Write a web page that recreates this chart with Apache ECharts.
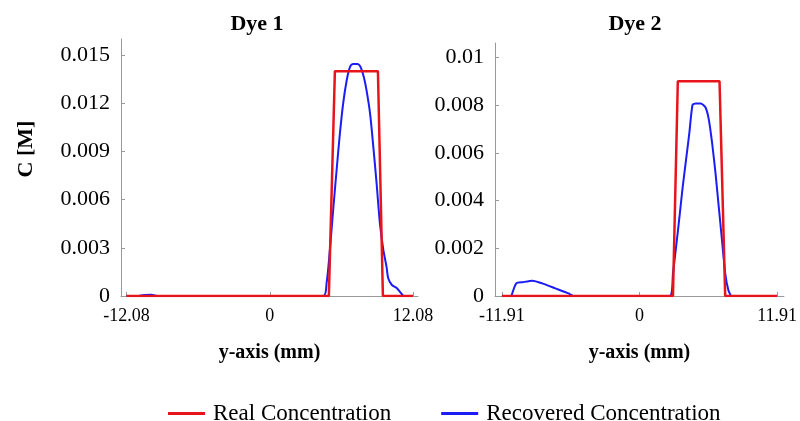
<!DOCTYPE html>
<html>
<head>
<meta charset="utf-8">
<script src="https://cdn.jsdelivr.net/npm/echarts@6/dist/echarts.min.js"></script>
<style>
  html, body { margin: 0; padding: 0; background: #fff; }
  #chart { width: 800px; height: 421px; }
</style>
</head>
<body>
<div id="chart"></div>
<script>
// Dye 1 (x in mm, C in M)
const dye1Real = [
  [-12.08, 0], [4.98, 0], [5.49, 0.014], [9.12, 0.014], [9.54, 0], [12.08, 0],
];
const dye1Recovered = [
  [-12.08, 0], [-11.2, 0], [-10.6, 0.00007], [-10.0, 0.00008], [-9.4, 0], [4.5, 0],
  [4.79, 0.0008], [5.07, 0.0029], [5.35, 0.0054], [5.63, 0.0078], [5.91, 0.0101],
  [6.19, 0.012], [6.48, 0.0134], [6.76, 0.01425], [7.04, 0.01444], [7.38, 0.01444],
  [7.66, 0.01425], [7.94, 0.0136], [8.16, 0.0128], [8.45, 0.0114], [8.73, 0.0093],
  [9.01, 0.007], [9.29, 0.0045], [9.57, 0.0029], [9.85, 0.0018], [9.99, 0.0011],
  [10.28, 0.0007], [10.7, 0.0005], [10.98, 0.00025], [11.26, 0],
];
// Dye 2
const dye2Real = [
  [-11.91, 0], [2.9, 0], [3.32, 0.009], [6.93, 0.009], [7.42, 0], [11.91, 0],
];
const dye2Recovered = [
  [-11.08, 0], [-10.66, 0.00053], [-10.1, 0.00058], [-9.25, 0.00064], [-8.41, 0.00053],
  [-7.27, 0.00032], [-6.14, 0.00011], [-5.72, 0], [2.61, 0],
  [2.9, 0.00095], [3.18, 0.0021], [3.46, 0.0033], [3.75, 0.0046], [4.03, 0.0057],
  [4.31, 0.0068], [4.59, 0.008], [4.87, 0.00807], [5.3, 0.00807], [5.72, 0.0079],
  [6.0, 0.0074], [6.29, 0.0064], [6.57, 0.0052], [6.85, 0.0038], [7.13, 0.0024],
  [7.42, 0.00095], [7.69, 0.00025], [7.92, 0],
];

const xTicks1 = [-12.08, 0, 12.08];
const xTicks2 = [-11.91, 0, 11.91];
const yTicks1 = [0, 0.003, 0.006, 0.009, 0.012, 0.015];
const yTicks2 = [0, 0.002, 0.004, 0.006, 0.008, 0.01];

const SERIF = "'Liberation Serif', 'DejaVu Serif', serif";
const RED = "#e8141c";
const BLUE = "#1c1cf5";

function xAxisFor(gridIndex, min, max, ticks) {
  return {
    type: "value",
    gridIndex,
    min,
    max,
    name: "y-axis (mm)",
    nameLocation: "middle",
    nameGap: 47,
    nameTextStyle: { fontFamily: SERIF, fontWeight: "bold", fontSize: 20, color: "#000" },
    axisLine: { show: true, onZero: false, lineStyle: { color: "#999", width: 1 } },
    axisTick: { show: true, inside: true, length: 4, customValues: ticks, lineStyle: { color: "#999" } },
    axisLabel: {
      customValues: ticks,
      fontFamily: SERIF,
      fontSize: 18,
      color: "#000",
      margin: 11,
      formatter: (v) => (v === 0 ? "0" : v.toFixed(2)),
    },
    splitLine: { show: false },
  };
}

function yAxisFor(gridIndex, max, ticks) {
  return {
    type: "value",
    gridIndex,
    min: 0,
    max,
    axisLine: { show: true, onZero: false, lineStyle: { color: "#999", width: 1 } },
    axisTick: { show: true, inside: true, length: 4, customValues: ticks, lineStyle: { color: "#999" } },
    axisLabel: {
      customValues: ticks,
      fontFamily: SERIF,
      fontSize: 22,
      color: "#000",
      margin: 11,
      formatter: (v) => String(v),
    },
    splitLine: { show: false },
  };
}

const chart = echarts.init(document.getElementById("chart"), undefined, { renderer: "canvas" });
chart.setOption({
  animation: false,
  title: [
    { text: "Dye 1", left: 252, top: 8, textAlign: "center",
      textStyle: { fontFamily: SERIF, fontWeight: "bold", fontSize: 22, color: "#000" } },
    { text: "Dye 2", left: 630, top: 8, textAlign: "center",
      textStyle: { fontFamily: SERIF, fontWeight: "bold", fontSize: 22, color: "#000" } },
  ],
  graphic: [
    { type: "text", x: 26, y: 149, rotation: Math.PI / 2,
      style: { text: "C [M]", fontFamily: SERIF, fontWeight: "bold", fontSize: 22, fill: "#000",
        align: "center", verticalAlign: "middle" } },
  ],
  legend: {
    top: 397,
    left: 163,
    itemWidth: 37,
    itemHeight: 3,
    itemGap: 50,
    icon: "rect",
    textStyle: { fontFamily: SERIF, fontSize: 23, color: "#000", padding: [0, 0, 0, 3] },
    data: [
      { name: "Real Concentration", itemStyle: { color: RED } },
      { name: "Recovered Concentration", itemStyle: { color: BLUE } },
    ],
  },
  grid: [
    { left: 121, top: 39, right: 382, bottom: 125 },
    { left: 495, top: 43, right: 10, bottom: 125 },
  ],
  xAxis: [
    xAxisFor(0, -12.55, 12.5, xTicks1),
    xAxisFor(1, -12.5, 12.5, xTicks2),
  ],
  yAxis: [
    yAxisFor(0, 0.016, yTicks1),
    yAxisFor(1, 0.0106, yTicks2),
  ],
  series: [
    { name: "Recovered Concentration", type: "line", xAxisIndex: 0, yAxisIndex: 0,
      data: dye1Recovered, smooth: 0.3, showSymbol: false, z: 2,
      lineStyle: { color: BLUE, width: 2 }, itemStyle: { color: BLUE } },
    { name: "Real Concentration", type: "line", xAxisIndex: 0, yAxisIndex: 0,
      data: dye1Real, showSymbol: false, z: 3,
      lineStyle: { color: RED, width: 2.5 }, itemStyle: { color: RED } },
    { name: "Recovered Concentration", type: "line", xAxisIndex: 1, yAxisIndex: 1,
      data: dye2Recovered, smooth: 0.2, showSymbol: false, z: 2,
      lineStyle: { color: BLUE, width: 2 }, itemStyle: { color: BLUE } },
    { name: "Real Concentration", type: "line", xAxisIndex: 1, yAxisIndex: 1,
      data: dye2Real, showSymbol: false, z: 3,
      lineStyle: { color: RED, width: 2.5 }, itemStyle: { color: RED } },
  ],
});

window.addEventListener("resize", () => chart.resize());
</script>
</body>
</html>
